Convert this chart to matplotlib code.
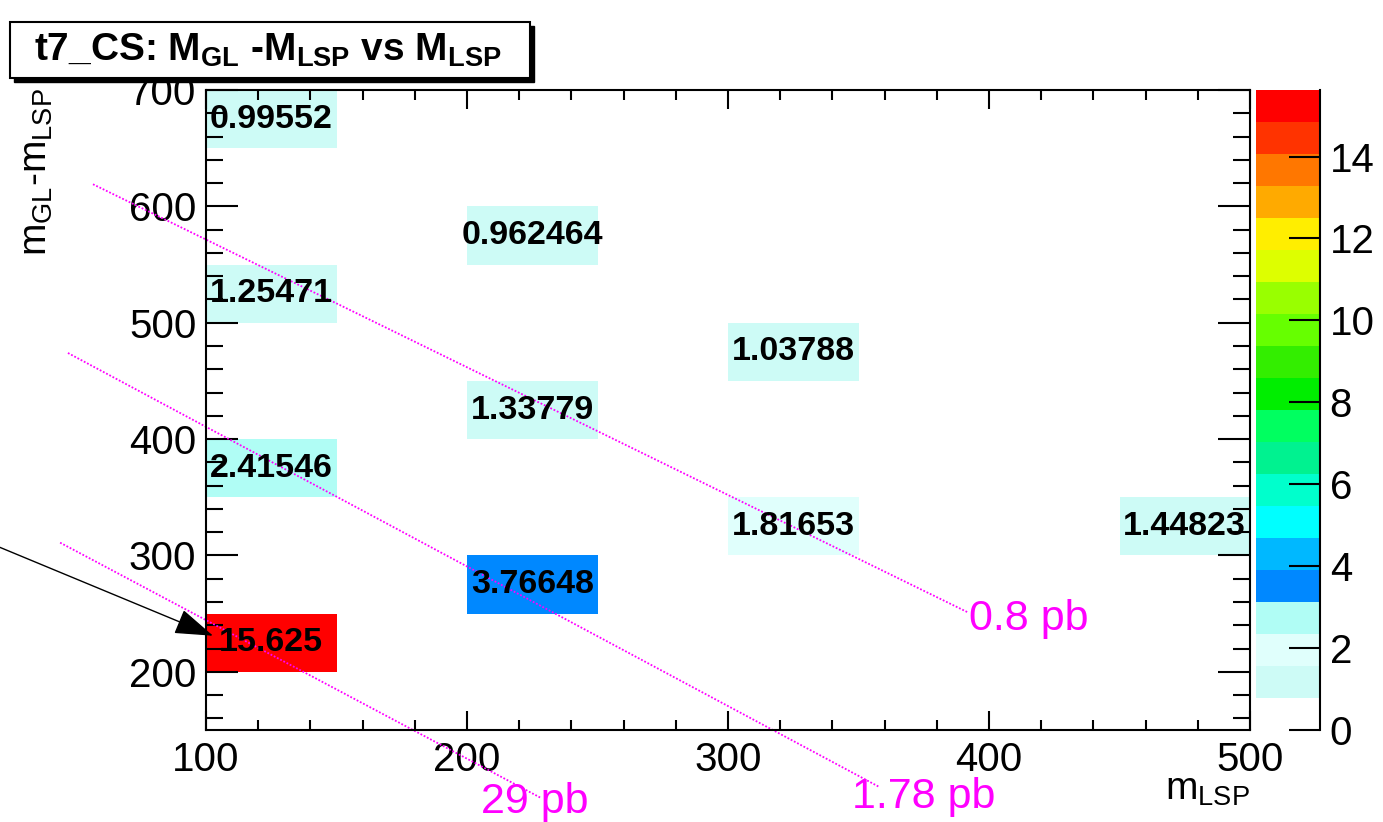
import matplotlib
matplotlib.use("Agg")
import matplotlib.pyplot as plt
import numpy as np
from matplotlib.colors import ListedColormap, BoundaryNorm
from matplotlib.patches import Rectangle, FancyArrowPatch

plt.rcParams['font.family'] = ['Liberation Sans', 'DejaVu Sans']
plt.rcParams['mathtext.default'] = 'regular'

# cells: lower edge of x bin, lower edge of y bin, value
cell_x = [100, 100, 100, 100, 200, 200, 200, 300, 300, 450]
cell_y = [650, 500, 350, 200, 550, 400, 250, 450, 300, 300]
cell_val = [0.99552, 1.25471, 2.41546, 15.625, 0.962464, 1.33779, 3.76648,
            1.03788, 1.81653, 1.44823]

# cross-section lines (start, end) and labels
line_x0 = [56.7, 47.1, 44.1]
line_y0 = [619, 474, 311]
line_x1 = [392, 358, 228]
line_y1 = [251, 101, 92]
line_lab = ['0.8 pb', '1.78 pb', '29 pb']
lab_x = [392.5, 347.5, 205.5]
lab_y = [245, 92, 88]

xedges = np.arange(100, 501, 50)
yedges = np.arange(150, 701, 50)
zmax = max(cell_val)

grid = np.full((len(yedges) - 1, len(xedges) - 1), np.nan)
for x, y, v in zip(cell_x, cell_y, cell_val):
    grid[(y - 150) // 50, (x - 100) // 50] = v
grid = np.ma.masked_invalid(grid)

colors = ['#ffffff', '#cdfbf6', '#e0fffc', '#b0fdf5', '#0088ff', '#00b8ff',
          '#00ffff', '#00ffcc', '#00f290', '#00ff60', '#00ee00', '#33ee00',
          '#66ff00', '#99ff00', '#ddff00', '#ffee00', '#ffaa00', '#ff7700',
          '#ff3300', '#ff0000']
cmap = ListedColormap(colors)
levels = np.linspace(0, zmax, 21)
norm = BoundaryNorm(levels, cmap.N)

fig = plt.figure(figsize=(13.83, 8.22), dpi=100)
ax = fig.add_axes([206/1383, 92/822, 1044/1383, 640/822])
mesh = ax.pcolormesh(xedges, yedges, grid, cmap=cmap, norm=norm)

for x, y, v in zip(cell_x, cell_y, cell_val):
    ax.text(x + 25, y + 25, f"{v:g}", ha='center', va='center',
            fontsize=24.5, fontweight='bold', color='black')

for x0, y0, x1, y1 in zip(line_x0, line_y0, line_x1, line_y1):
    ax.plot([x0, x1], [y0, y1], color='magenta', lw=1.3,
            linestyle=(0, (1, 1)), clip_on=False)
for x, y, t in zip(lab_x, lab_y, line_lab):
    ax.text(x, y, t, color='magenta', fontsize=31, ha='left', va='center',
            clip_on=False)

arr = FancyArrowPatch((21, 307), (102.7, 231),
                      arrowstyle='-|>,head_length=1.35,head_width=0.45',
                      mutation_scale=18, color='black', lw=1, clip_on=False,
                      shrinkA=0, shrinkB=0)
ax.add_patch(arr)

ax.set_xlim(100, 500)
ax.set_ylim(150, 700)
ax.set_xticks(np.arange(100, 501, 100))
ax.set_yticks(np.arange(200, 701, 100))
ax.set_xticks(np.arange(100, 501, 20), minor=True)
ax.set_yticks(np.arange(160, 701, 20), minor=True)
ax.tick_params(axis='both', which='both', direction='in', top=True, right=True,
               labelsize=29, width=1.5)
ax.tick_params(axis='x', which='major', length=14, pad=8)
ax.tick_params(axis='x', which='minor', length=7)
ax.tick_params(axis='y', which='major', length=23, pad=7)
ax.tick_params(axis='y', which='minor', length=12)
for s in ax.spines.values():
    s.set_linewidth(1.5)

ax.set_xlabel(r'm$_{LSP}$', fontsize=28, loc='right')
ax.xaxis.set_label_coords(1.0, -0.065)
ax.set_ylabel(r'm$_{GL}$-m$_{LSP}$', fontsize=28, loc='top')
ax.yaxis.set_label_coords(-0.145, 1.003)

cax = fig.add_axes([1256/1383, 92/822, 64/1383, 640/822])
cb = fig.colorbar(mesh, cax=cax, ticks=np.arange(0, 15, 2))
cb.outline.set_visible(False)
cax.plot([1, 1], [0, 1], transform=cax.transAxes, color='black', lw=1.5, clip_on=False)
cax.tick_params(direction='in', length=22, width=1.5, labelsize=29, pad=7)
cax.minorticks_off()

# title box with shadow
fig.patches.append(Rectangle((14/1383, (822-82)/822), 520/1383, 56/822,
                             transform=fig.transFigure, facecolor='black', edgecolor='black'))
fig.patches.append(Rectangle((10/1383, (822-78)/822), 520/1383, 56/822,
                             transform=fig.transFigure, facecolor='white', edgecolor='black', lw=1.5))
fig.text(268/1383, (822-50)/822, r't7_CS: M$_{GL}$ -M$_{LSP}$ vs M$_{LSP}$',
         ha='center', va='center', fontsize=28, fontweight='bold')

fig.savefig('out.png', dpi=100)
